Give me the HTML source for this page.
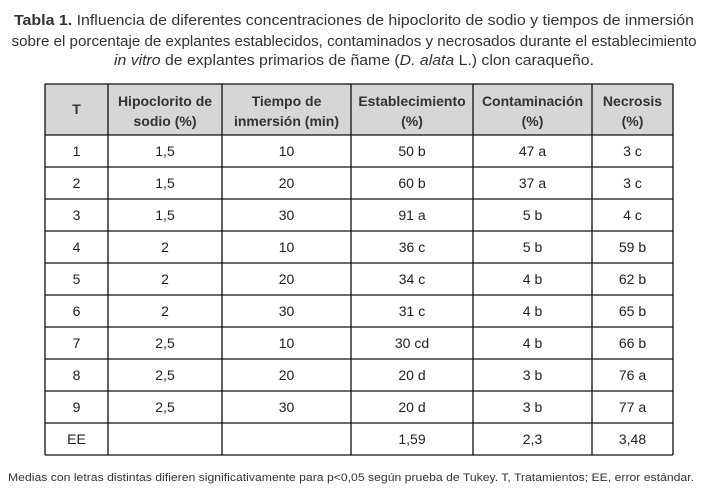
<!DOCTYPE html>
<html><head><meta charset="utf-8"><style>
html,body{margin:0;padding:0;background:#fff;}
svg{display:block;font-family:"Liberation Sans",sans-serif;}
</style></head><body>
<svg width="708" height="500" viewBox="0 0 708 500" xmlns="http://www.w3.org/2000/svg">
<g fill="#333" font-size="15">
<text x="354" y="25" text-anchor="middle" textLength="680" lengthAdjust="spacingAndGlyphs"><tspan font-weight="bold">Tabla 1.</tspan> Influencia de diferentes concentraciones de hipoclorito de sodio y tiempos de inmersión</text>
<text x="354" y="46" text-anchor="middle" textLength="685" lengthAdjust="spacingAndGlyphs">sobre el porcentaje de explantes establecidos, contaminados y necrosados durante el establecimiento</text>
<text x="354" y="65" text-anchor="middle" textLength="480" lengthAdjust="spacingAndGlyphs"><tspan font-style="italic">in vitro</tspan> de explantes primarios de ñame (<tspan font-style="italic">D. alata</tspan> L.) clon caraqueño.</text>
</g>
<g id="tbl"></g>
<text x="8" y="481" font-size="11" fill="#333" textLength="686" lengthAdjust="spacingAndGlyphs">Medias con letras distintas difieren significativamente para p&lt;0,05 según prueba de Tukey. T, Tratamientos;  EE, error estándar.</text>
</svg>
<script>
const headers = [["T"],["Hipoclorito de","sodio (%)"],["Tiempo de","inmersión (min)"],["Establecimiento","(%)"],["Contaminación","(%)"],["Necrosis","(%)"]];
const treatments = ["1","2","3","4","5","6","7","8","9","EE"];
const hipoclorito = ["1,5","1,5","1,5","2","2","2","2,5","2,5","2,5",""];
const tiempo = ["10","20","30","10","20","30","10","20","30",""];
const establecimiento = ["50 b","60 b","91 a","36 c","34 c","31 c","30 cd","20 d","20 d","1,59"];
const contaminacion = ["47 a","37 a","5 b","5 b","4 b","4 b","4 b","3 b","3 b","2,3"];
const necrosis = ["3 c","3 c","4 c","59 b","62 b","65 b","66 b","76 a","77 a","3,48"];

const NS="http://www.w3.org/2000/svg";
const g=document.getElementById('tbl');
const cols=[45,108,222,351,473,592,673];
const top0=84, headBot=135, bot=455;
const rowH=(bot-headBot)/treatments.length;
function mk(t,a){const e=document.createElementNS(NS,t);for(const k in a)e.setAttribute(k,a[k]);g.appendChild(e);return e;}
const hb=mk('rect',{x:cols[0],y:top0,width:cols[6]-cols[0],height:headBot-top0,fill:'#d6d6d6'});


headers.forEach((h,i)=>{
  const cx=(cols[i]+cols[i+1])/2;
  const ys=h.length===1?[114]:[106,126];
  h.forEach((line,j)=>{
    const t=mk('text',{x:cx,y:ys[j],'text-anchor':'middle','font-size':14,'font-weight':'bold',fill:'#333'});
    t.textContent=line;
    
    
  });
});
const colsData=[treatments,hipoclorito,tiempo,establecimiento,contaminacion,necrosis];
treatments.forEach((_,r)=>{
  const cy=headBot+rowH*(r+0.5)+5;
  colsData.forEach((arr,c)=>{
    const t=mk('text',{x:(cols[c]+cols[c+1])/2,y:cy,'text-anchor':'middle','font-size':14,fill:'#222'});
    t.textContent=arr[r];
    
    
  });
});
// grid lines
for(let r=0;r<=treatments.length;r++){
  const y=headBot+rowH*r;
  const l=mk('line',{x1:cols[0],x2:cols[6],y1:y,y2:y,stroke:'#111','stroke-width':1.3});
  
  
}
const tl=mk('line',{x1:cols[0],x2:cols[6],y1:top0,y2:top0,stroke:'#111','stroke-width':1.3});


cols.forEach(x=>{
  const l=mk('line',{x1:x,x2:x,y1:top0,y2:bot,stroke:'#111','stroke-width':1.3});
  
  
});
</script>
</body></html>
